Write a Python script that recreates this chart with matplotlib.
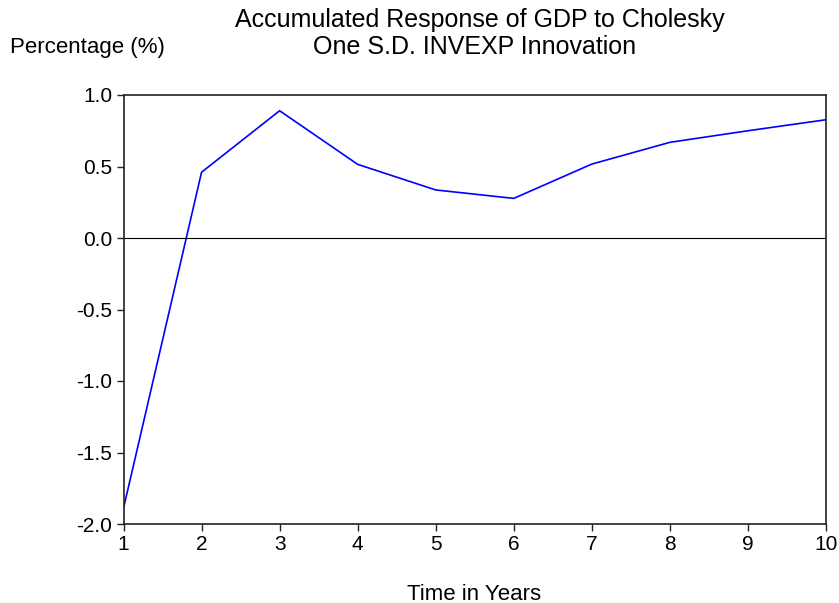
import matplotlib
matplotlib.use("Agg")
import matplotlib.pyplot as plt

plt.rcParams["font.family"] = ["Liberation Sans", "DejaVu Sans"]

# accumulated response
years = [1, 2, 3, 4, 5, 6, 7, 8, 9, 10]
response = [-1.89, 0.46, 0.89, 0.515, 0.336, 0.277, 0.517, 0.669, 0.75, 0.827]
yticks = [-2.0, -1.5, -1.0, -0.5, 0.0, 0.5, 1.0]

fig = plt.figure(figsize=(8.39, 6.03), dpi=100)
ax = fig.add_axes([123.5 / 839, 1 - 524 / 603, (826 - 123.5) / 839, (524 - 95) / 603])

ax.plot(years, response, color="#0000ff", linewidth=1.2)
ax.axhline(0, color="black", linewidth=0.8)

ax.set_xlim(1, 10)
ax.set_ylim(-2.0, 1.0)
ax.set_xticks(years)
ax.set_yticks(yticks)
ax.set_yticklabels([f"{v:.1f}" for v in yticks])
ax.tick_params(axis="both", direction="out", length=5, width=1, labelsize=15,
               colors="#222222", labelcolor="black", pad=3)
for s in ax.spines.values():
    s.set_linewidth(1.2)
    s.set_color("#222222")

fig.text(480 / 839, 1 - 20 / 603, "Accumulated Response of GDP to Cholesky",
         ha="center", va="center", fontsize=18)
fig.text(475 / 839, 1 - 47 / 603, "One S.D. INVEXP Innovation",
         ha="center", va="center", fontsize=18)
fig.text(10 / 839, 1 - 47 / 603, "Percentage (%)", ha="left", va="center", fontsize=16)
fig.text(474 / 839, 1 - 594 / 603, "Time in Years", ha="center", va="center", fontsize=16)

fig.savefig("out.png", dpi=100)
